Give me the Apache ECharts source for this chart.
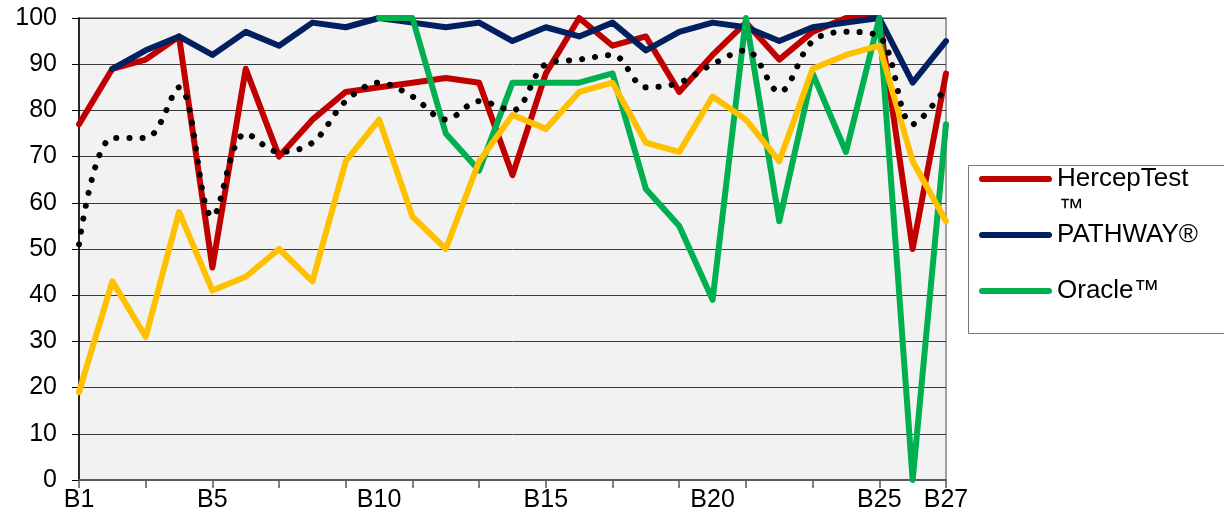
<!DOCTYPE html>
<html>
<head>
<meta charset="utf-8">
<script src="https://cdn.jsdelivr.net/npm/echarts@6/dist/echarts.min.js"></script>
<style>
  html, body { margin: 0; padding: 0; background: #fff; }
  #chart { width: 1224px; height: 526px; }
</style>
</head>
<body>
<div id="chart"></div>
<script>
// categories on the x axis
const categories = ['B1', 'B2', 'B3', 'B4', 'B5', 'B6', 'B7', 'B8', 'B9', 'B10', 'B11', 'B12', 'B13', 'B14',
  'B15', 'B16', 'B17', 'B18', 'B19', 'B20', 'B21', 'B22', 'B23', 'B24', 'B25', 'B26', 'B27'];
// only these category labels are printed
const shownLabels = ['B1', 'B5', 'B10', 'B15', 'B20', 'B25', 'B27'];

// series values
const hercepTest = [77, 89, 91, 96, 46, 89, 70, 78, 84, 85, 86, 87, 86, 66, 88, 100, 94, 96, 84, 92, 99, 91, 97, 100, 100, 50, 88];
const pathway = [null, 89, 93, 96, 92, 97, 94, 99, 98, 100, 99, 98, 99, 95, 98, 96, 99, 93, 97, 99, 98, 95, 98, 99, 100, 86, 95];
const oracle = [null, null, null, null, null, null, null, null, null, 100, 100, 75, 67, 86, 86, 86, 88, 63, 55, 39, 100, 56, 88, 71, 100, 0, 77];
const series4 = [19, 43, 31, 58, 41, 44, 50, 43, 69, 78, 57, 50, 69, 79, 76, 84, 86, 73, 71, 83, 78, 69, 89, 92, 94, 69, 56];
const meanLine = [51, 74, 74, 85, 57, 75, 71, 73, 82, 86, 83, 78, 82, 80, 90, 91, 92, 85, 86, 90, 93, 84, 95, 97, 96, 77, 85];

const FONT = '"Liberation Sans", Arial, sans-serif';
// thick line with round ends for the legend keys
const KEY_ICON = 'path://M3,0 L70,0 A3,3 0 0 1 70,6 L3,6 A3,3 0 0 1 3,0 Z';

const chart = echarts.init(document.getElementById('chart'));

// solid coloured line
const solid = (name, data, color) => ({
  name: name,
  type: 'line',
  data: data,
  symbol: 'none',
  itemStyle: { color: color },
  lineStyle: { color: color, width: 6, cap: 'round', join: 'round' }
});

chart.setOption({
  animation: false,
  backgroundColor: '#fff',
  grid: {
    left: 79, right: 278, top: 18, bottom: 46,
    show: true,
    backgroundColor: '#F2F2F2',
    borderColor: '#A0A0A0',
    borderWidth: 2
  },
  legend: {
    orient: 'vertical',
    left: 979,
    top: 164,
    padding: 0,
    icon: KEY_ICON,
    itemWidth: 73,
    itemHeight: 6,
    itemGap: 26,
    data: ['HercepTest™', 'PATHWAY®', 'Oracle™'],
    formatter: (name) => (name === 'HercepTest™' ? 'HercepTest' : name),
    textStyle: { fontSize: 26, lineHeight: 30, color: '#000', fontFamily: FONT }
  },
  graphic: [
    {
      type: 'rect',
      z: 0,
      shape: { x: 968.5, y: 165.5, width: 300, height: 168 },
      style: { fill: '#fff', stroke: '#777', lineWidth: 1 }
    },
    {
      type: 'text',
      z: 10,
      x: 1059,
      y: 209,
      style: { text: '™', font: '25px ' + FONT, fill: '#000', verticalAlign: 'middle' }
    }
  ],
  xAxis: {
    type: 'category',
    data: categories,
    boundaryGap: false,
    axisLine: { lineStyle: { color: '#595959', width: 2 } },
    axisTick: { show: true, interval: 1, length: 8, lineStyle: { color: '#595959', width: 1.5 } },
    axisLabel: {
      interval: (i, v) => shownLabels.includes(v),
      showMinLabel: true,
      showMaxLabel: true,
      color: '#000',
      fontSize: 25,
      fontFamily: FONT,
      margin: 8
    },
    splitLine: { show: false }
  },
  yAxis: {
    type: 'value',
    min: 0,
    max: 100,
    interval: 10,
    axisLine: { show: true, lineStyle: { color: '#000', width: 1.5 } },
    axisTick: { show: true, length: 7, lineStyle: { color: '#000' } },
    axisLabel: { color: '#000', fontSize: 25, fontFamily: FONT, margin: 22 },
    splitLine: { lineStyle: { color: '#3c3c3c', width: 1 } }
  },
  series: [
    solid('HercepTest™', hercepTest, '#C00000'),
    solid('PATHWAY®', pathway, '#002060'),
    solid('Oracle™', oracle, '#00B050'),
    solid('Series 4', series4, '#FFC000'),
    {
      name: 'Mean',
      type: 'line',
      data: meanLine,
      symbol: 'none',
      smooth: 0.35,
      itemStyle: { color: '#000' },
      lineStyle: { color: '#000', width: 6, type: [0.1, 13], cap: 'round' }
    }
  ]
});

window.addEventListener('resize', function () {
  chart.resize();
});
</script>
</body>
</html>
